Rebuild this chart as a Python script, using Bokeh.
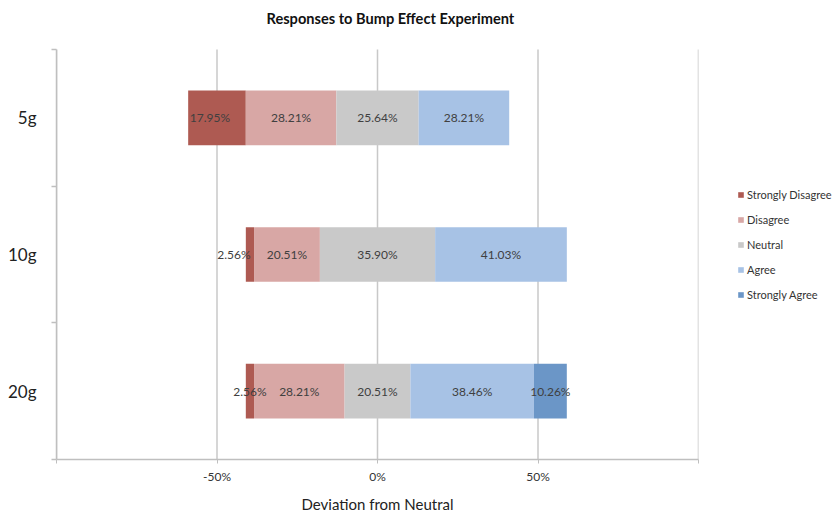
from bokeh.plotting import figure
from bokeh.models import (ColumnDataSource, FixedTicker, Legend, LegendItem, Range1d,
                          NumeralTickFormatter, Label)
from bokeh.layouts import row
from bokeh.core.properties import value
from bokeh.embed import file_html
from bokeh.resources import INLINE

categories = ["5g", "10g", "20g"]
series = ["Strongly Disagree", "Disagree", "Neutral", "Agree", "Strongly Agree"]
strongly_disagree = [17.95, 2.56, 2.56]
disagree = [28.21, 20.51, 28.21]
neutral = [25.64, 35.90, 20.51]
agree = [28.21, 41.03, 38.46]
strongly_agree = [0.0, 0.0, 10.26]
colors = ["#AE5A52", "#D8A7A5", "#C9C9C9", "#A7C2E5", "#6B96C7"]
x_ticks = [-1.0, -0.5, 0.0, 0.5, 1.0]
title_text = "Responses to Bump Effect Experiment"
x_title = "Deviation from Neutral"

FONT = "Lato"
values = [strongly_disagree, disagree, neutral, agree, strongly_agree]

# layout (pixels)
H = 515
MAIN_W, LEG_W = 700, 135
LEFT, RIGHT, BOTTOM = 56, 2, 56
PLOT_TOP = 49                      # top of the bar area
FRAME_H = H - BOTTOM               # frame reaches the top of the canvas (title lives inside it)
n = len(categories)
y_max = n * FRAME_H / (FRAME_H - PLOT_TOP)

# y positions: 5g at top
ypos = [n - 1 - i + 0.5 for i in range(n)]

p = figure(width=MAIN_W, height=H, output_backend="svg", toolbar_location=None,
           x_range=Range1d(-1, 1), y_range=Range1d(0, y_max),
           min_border_left=LEFT, min_border_right=RIGHT, min_border_top=0, min_border_bottom=BOTTOM)

# vertical grid lines over the bar area only
p.segment(x0=x_ticks, y0=[0] * len(x_ticks), x1=x_ticks, y1=[n] * len(x_ticks),
          line_color="#C8C8C8", line_width=1.5)

# diverging layout: neutral centered on zero
starts = [-(strongly_disagree[i] + disagree[i] + neutral[i] / 2.0) / 100.0 for i in range(n)]

label_x, label_y, label_t, label_off = [], [], [], []
nudge = {(0, 0): -7, (0, 1): -16}
sources = []
cum = list(starts)
for k, name in enumerate(series):
    lefts, rights = [], []
    for i in range(n):
        v = values[k][i] / 100.0
        lefts.append(cum[i])
        rights.append(cum[i] + v)
        if values[k][i] > 0:
            label_x.append(cum[i] + v / 2)
            label_y.append(ypos[i])
            label_t.append(f"{values[k][i]:.2f}%")
            label_off.append(nudge.get((k, i), 0))
        cum[i] += v
    src = ColumnDataSource(dict(y=ypos, left=lefts, right=rights))
    sources.append(src)
    p.hbar(y="y", left="left", right="right", height=0.4, source=src,
           fill_color=colors[k], line_color=None)

lsrc = ColumnDataSource(dict(x=label_x, y=label_y, t=label_t, off=label_off))
p.text(x="x", y="y", text="t", x_offset="off", source=lsrc, text_align="center",
       text_baseline="middle", text_font=value(FONT), text_font_size="12px",
       text_color="#404040")

# title (inside the frame's upper strip)
p.add_layout(Label(x=266 - LEFT, y=FRAME_H - 18, x_units="screen", y_units="screen",
                   text=title_text, text_font=FONT, text_font_size="14.6px",
                   text_font_style="bold", text_color="#111111",
                   text_align="left", text_baseline="middle"))

# x axis
p.xaxis.ticker = FixedTicker(ticks=x_ticks)
p.xaxis.formatter = NumeralTickFormatter(format="0%")
p.xaxis.major_label_overrides = {-1.0: "", 1.0: ""}
p.xaxis.axis_label = x_title
p.xaxis.axis_label_text_font = FONT
p.xaxis.axis_label_text_font_size = "15px"
p.xaxis.axis_label_text_font_style = "normal"
p.xaxis.axis_label_text_color = "#222222"
p.xaxis.axis_label_standoff = 8
p.xaxis.major_label_text_font = FONT
p.xaxis.major_label_text_font_size = "12px"
p.xaxis.major_label_text_color = "#333333"
p.xaxis.major_label_standoff = 5
p.xaxis.axis_line_color = "#BFBFBF"
p.xaxis.axis_line_width = 1.5
p.xaxis.major_tick_line_color = "#BFBFBF"
p.xaxis.major_tick_out = 4
p.xaxis.major_tick_in = 0
p.xaxis.minor_tick_line_color = None

# y axis
p.yaxis.ticker = FixedTicker(ticks=ypos, minor_ticks=[float(j) for j in range(n + 1)])
p.yaxis.bounds = (0, n)
p.yaxis.major_label_overrides = {ypos[i]: categories[i] for i in range(n)}
p.yaxis.major_label_text_font = FONT
p.yaxis.major_label_text_font_size = "17px"
p.yaxis.major_label_text_color = "#222222"
p.yaxis.major_label_standoff = 14
p.yaxis.major_tick_line_color = None
p.yaxis.minor_tick_line_color = "#BFBFBF"
p.yaxis.minor_tick_line_width = 1.5
p.yaxis.minor_tick_out = 5
p.yaxis.minor_tick_in = 0
p.yaxis.axis_line_color = "#BFBFBF"
p.yaxis.axis_line_width = 1.5

p.xgrid.grid_line_color = None
p.ygrid.grid_line_color = None
p.outline_line_color = None

# legend panel (hidden copies of the series supply the legend swatches)
q = figure(width=LEG_W, height=H, output_backend="svg", toolbar_location=None,
           x_range=Range1d(-1, 1), y_range=Range1d(0, y_max), x_axis_type=None, y_axis_type=None,
           min_border=0)
q.grid.grid_line_color = None
q.outline_line_color = None
items = []
for k, name in enumerate(series):
    r = q.hbar(y="y", left="left", right="right", height=0.4, source=sources[k],
               fill_color=colors[k], line_color=None, visible=False)
    items.append(LegendItem(label=name, renderers=[r]))
legend = Legend(items=items, location=(737 - MAIN_W, 155), padding=0, margin=0,
                spacing=5, glyph_width=7, glyph_height=7, label_height=20,
                label_standoff=3, label_text_font=FONT, label_text_font_size="11px",
                label_text_color="#333333", border_line_color=None,
                background_fill_alpha=0, inactive_fill_alpha=0)
q.add_layout(legend, "center")

layout = row(p, q, spacing=0)
open("out.html", "w").write(file_html(layout, INLINE))
